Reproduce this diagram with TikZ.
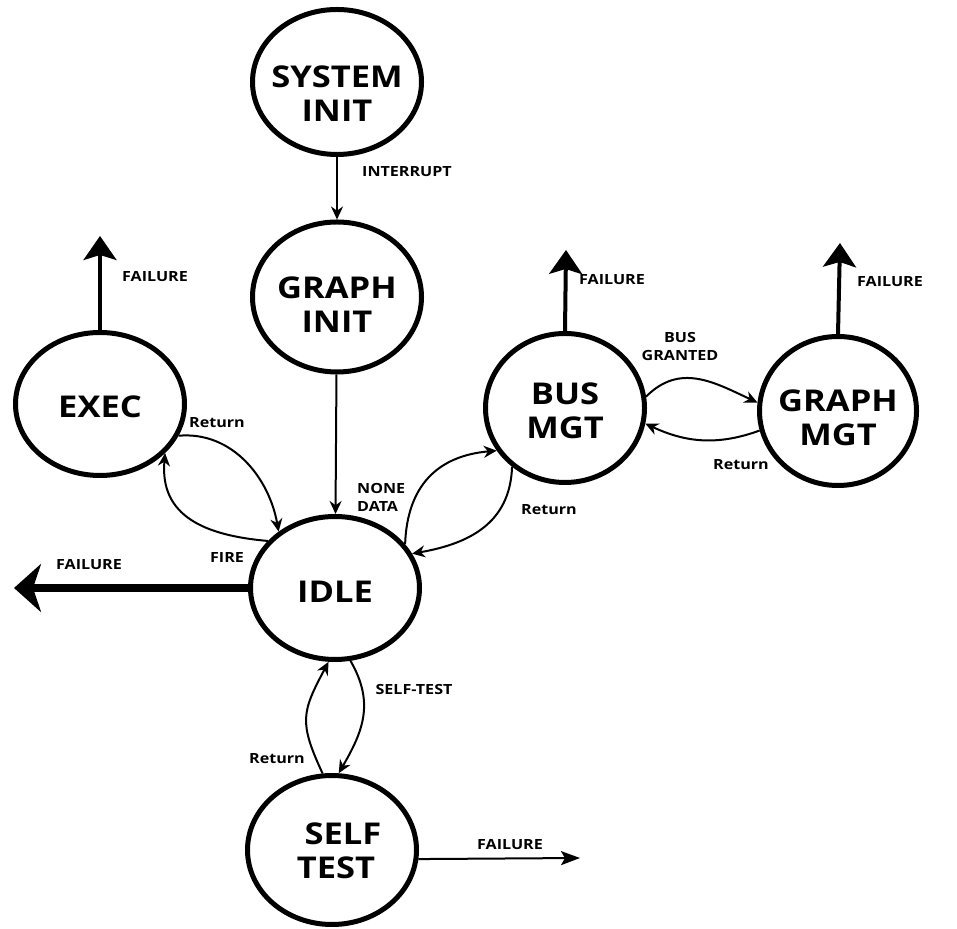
\documentclass[tikz,border=0pt]{standalone}
\usepackage{fontspec}
\setmainfont{Open Sans}[FakeStretch=1.15]
\usetikzlibrary{shapes.geometric,arrows.meta}
\tikzset{
  state/.style={ellipse,draw,line width=5pt,inner sep=0pt},
  stext/.style={font=\bfseries\fontsize{30}{34}\selectfont,align=center,inner sep=0pt},
  lbl/.style={font=\bfseries\fontsize{14}{18}\selectfont,inner sep=0pt},
  conn/.style={line width=2pt,-{Stealth[length=13pt,width=12pt]}},
  fail/.style={line width=4pt,-{Stealth[length=24pt,width=33pt,inset=5pt]}},
  bigfail/.style={line width=8pt,-{Stealth[length=27pt,width=48pt,inset=8pt]}},
  thinfail/.style={line width=2pt,-{Stealth[length=19pt,width=14pt,inset=4pt]}}
}
\begin{document}
\begin{tikzpicture}[x=1pt,y=1pt]
\fill[white] (0,0) rectangle (957,928);
\useasboundingbox (0,0) rectangle (957,928);
% states
\node[state,minimum width=169pt,minimum height=145pt] (sys) at (337,846) {};
\node[state,minimum width=169pt,minimum height=150pt] (ginit) at (337,631) {};
\node[state,minimum width=169pt,minimum height=143pt] (exec) at (100,524) {};
\node[state,minimum width=169pt,minimum height=143pt] (idle) at (335,340) {};
\node[state,minimum width=159pt,minimum height=149pt] (bus) at (565,520) {};
\node[state,minimum width=157pt,minimum height=149pt] (gmgt) at (838,517) {};
\node[state,minimum width=169pt,minimum height=149pt] (st) at (332,78) {};
% state texts
\node[stext] (sysT) at (337,834) {SYSTEM\\INIT};
\node[stext] (ginitT) at (337,623) {GRAPH\\INIT};
\node[stext] (execT) at (100,521) {EXEC};
\node[stext] (idleT) at (335,336) {IDLE};
\node[stext] (busT) at (565,517) {BUS\\MGT};
\node[stext] (gmgtT) at (838,510) {GRAPH\\MGT};
\node[stext] (stT) at (336,77) {\hspace*{14pt}SELF\\TEST};
% failure endpoints
\coordinate (execF) at (100,692);
\coordinate (busF) at (566,678);
\coordinate (gmgtF) at (840,685);
\coordinate (idleF) at (14,340);
\coordinate (stF) at (580,70);
% straight connectors
\draw[conn] (sys) -- (ginit);
\draw[conn] (ginit) -- (idle);
% failure arrows
\draw[fail] (exec.north) -- (execF);
\draw[fail] (bus.north) -- (busF);
\draw[fail] (gmgt.north) -- (gmgtF);
\draw[bigfail] (idle.west) -- (idleF);
\draw[thinfail] (st.-6) -- (stF);
% loops
\draw[conn] (exec.-22) to[out=5,in=100] (idle.135);
\draw[conn] (idle.145) to[out=175,in=-95,looseness=1.2] (exec.-37);
\draw[conn] (idle.32) to[out=88,in=185,looseness=1.15] (bus.212);
\draw[conn] (bus.228) to[out=-92,in=10,looseness=1.1] (idle.24);
\draw[conn] (bus.8) to[out=45,in=155,looseness=1.1] (gmgt.174);
\draw[conn] (gmgt.194) to[out=200,in=-25] (bus.-11);
\draw[conn] (idle.-78) to[out=-60,in=60,looseness=1.1] (st.85);
\draw[conn] (st.97) to[out=115,in=-118,looseness=1.3] (idle.-95);
% labels
\node[lbl] (lInt) at (407,756) {INTERRUPT};
\node[lbl] (lFexec) at (155,651) {FAILURE};
\node[lbl,align=left,anchor=west] (lNone) at (357,431) {NONE\\DATA};
\node[lbl] (lRetExec) at (217,505) {Return};
\node[lbl] (lFire) at (227,370) {FIRE};
\node[lbl] (lFleft) at (89,363) {FAILURE};
\node[lbl] (lFbus) at (612,648) {FAILURE};
\node[lbl] (lFgmgt) at (890,646) {FAILURE};
\node[lbl,align=center] (lGrant) at (680,581) {BUS\\GRANTED};
\node[lbl] (lRetG) at (741,463) {Return};
\node[lbl] (lRetBus) at (549,418) {Return};
\node[lbl] (lST) at (414,238) {SELF-TEST};
\node[lbl] (lRetST) at (277,169) {Return};
\node[lbl] (lFst) at (510,83) {FAILURE};
\end{tikzpicture}
\end{document}
